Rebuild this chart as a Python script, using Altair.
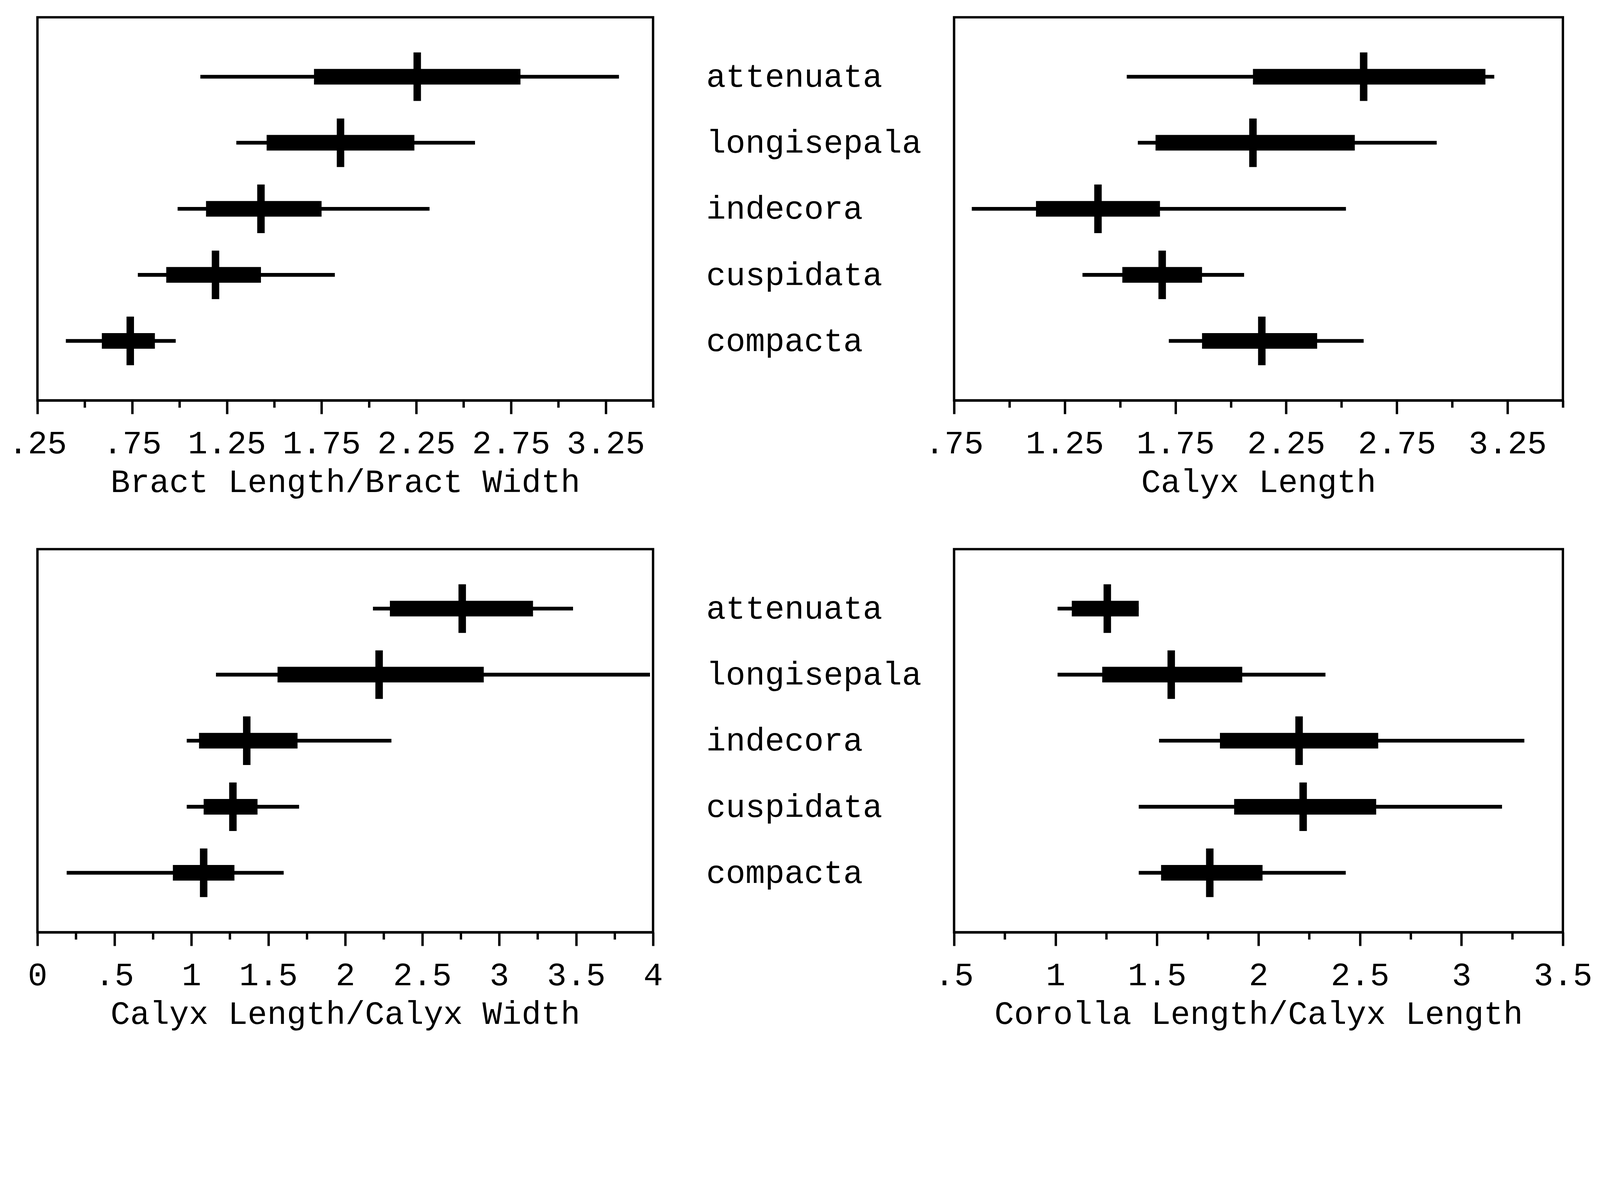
import altair as alt
import pandas as pd

species = ["attenuata", "longisepala", "indecora", "cuspidata", "compacta"]

# Bract Length/Bract Width
bract_lo = [1.11, 1.30, 0.99, 0.78, 0.40]
bract_q1 = [1.71, 1.46, 1.14, 0.93, 0.59]
bract_med = [2.255, 1.85, 1.43, 1.19, 0.74]
bract_q3 = [2.80, 2.24, 1.75, 1.43, 0.87]
bract_hi = [3.32, 2.56, 2.32, 1.82, 0.98]

# Calyx Length
calyx_lo = [1.53, 1.58, 0.83, 1.33, 1.72]
calyx_q1 = [2.10, 1.66, 1.12, 1.51, 1.87]
calyx_med = [2.60, 2.10, 1.40, 1.69, 2.14]
calyx_q3 = [3.15, 2.56, 1.68, 1.87, 2.39]
calyx_hi = [3.19, 2.93, 2.52, 2.06, 2.60]

# Calyx Length/Calyx Width
clcw_lo = [2.18, 1.16, 0.97, 0.97, 0.19]
clcw_q1 = [2.29, 1.56, 1.05, 1.08, 0.88]
clcw_med = [2.76, 2.22, 1.36, 1.27, 1.08]
clcw_q3 = [3.22, 2.90, 1.69, 1.43, 1.28]
clcw_hi = [3.48, 3.98, 2.30, 1.70, 1.60]

# Corolla Length/Calyx Length
cocl_lo = [1.01, 1.01, 1.51, 1.41, 1.41]
cocl_q1 = [1.08, 1.23, 1.81, 1.88, 1.52]
cocl_med = [1.255, 1.57, 2.20, 2.22, 1.76]
cocl_q3 = [1.41, 1.92, 2.59, 2.58, 2.02]
cocl_hi = [1.41, 2.33, 3.31, 3.20, 2.43]

FONT = "Liberation Mono"
FS = 96


def panel(lo, q1, med, q3, hi, title, dmin, dmax, odd_major, width, height, show_species):
    df = pd.DataFrame({"species": species, "lo": lo, "q1": q1, "med": med, "q3": q3, "hi": hi})
    n = int(round((dmax - dmin) / 0.25))
    ticks = [dmin + 0.25 * i for i in range(n + 1)]
    test = "(datum.value*4) % 2 == 1" if odd_major else "(datum.value*4) % 2 == 0"
    label_expr = (f"({test}) ? ((datum.value > 0 && datum.value < 1) ? "
                  f"substring(toString(datum.value), 1) : toString(datum.value)) : ''")
    xaxis = alt.Axis(
        values=ticks, title=title, labelExpr=label_expr, grid=False,
        tickSize={"condition": {"test": test, "value": 40}, "value": 21},
        labelPadding=40, titlePadding=18, labelFlush=False, labelOverlap=False,
        labelLimit=0,
    )
    xscale = alt.Scale(domain=[dmin, dmax], nice=False, zero=False)
    yscale = alt.Scale(type="point", padding=0.9, domain=species)
    if show_species:
        yaxis = alt.Axis(title=None, orient="left", labelAlign="left", labelPadding=730,
                         ticks=False, tickSize=0, domain=False, labelBaseline="middle",
                         labelFontSize=FS, labelFont=FONT, labelLimit=0)
    else:
        yaxis = None
    base = alt.Chart(df).encode(
        y=alt.Y("species:N", scale=yscale, axis=yaxis, sort=species)
    )
    whisk = base.mark_rule(color="black", strokeWidth=11).encode(
        x=alt.X("lo:Q", scale=xscale, axis=xaxis), x2="hi:Q"
    )
    box = base.mark_rule(color="black", strokeWidth=46).encode(
        x=alt.X("q1:Q", scale=xscale), x2="q3:Q"
    )
    medt = base.mark_tick(color="black", orient="vertical", thickness=22, size=143, opacity=1).encode(
        x=alt.X("med:Q", scale=xscale)
    )
    return alt.layer(whisk, box, medt).properties(width=width, height=height)


tl = panel(bract_lo, bract_q1, bract_med, bract_q3, bract_hi,
           "Bract Length/Bract Width", 0.25, 3.5, True, 1812, 1128, False)
tr = panel(calyx_lo, calyx_q1, calyx_med, calyx_q3, calyx_hi,
           "Calyx Length", 0.75, 3.5, True, 1792, 1128, True)
bl = panel(clcw_lo, clcw_q1, clcw_med, clcw_q3, clcw_hi,
           "Calyx Length/Calyx Width", 0.0, 4.0, False, 1812, 1128, False)
br = panel(cocl_lo, cocl_q1, cocl_med, cocl_q3, cocl_hi,
           "Corolla Length/Calyx Length", 0.5, 3.5, False, 1792, 1128, True)

chart = alt.concat(
    tl, tr, bl, br, columns=2, spacing={"row": 438, "column": 886}, bounds="flush"
).properties(
    padding={"left": 11, "top": -174, "right": 10, "bottom": 10},
    background="white",
).configure_view(
    stroke="black", strokeWidth=7
).configure_axis(
    domainColor="black", domainWidth=7, tickColor="black", tickWidth=7,
    labelColor="black", titleColor="black", labelFont=FONT, titleFont=FONT,
    labelFontSize=FS, titleFontSize=FS, titleFontWeight="normal",
)

chart.save("out.html", embed_options={"renderer": "svg", "actions": False})
